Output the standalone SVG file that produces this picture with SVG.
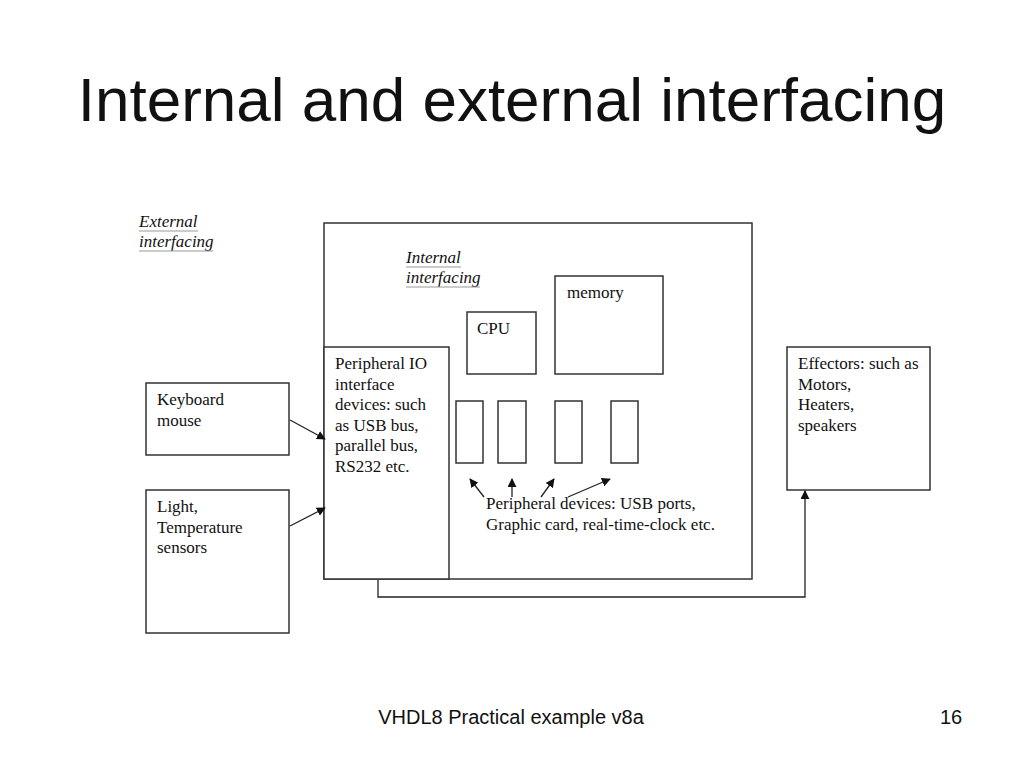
<svg xmlns="http://www.w3.org/2000/svg" width="1024" height="768" viewBox="0 0 1024 768">
<defs>
<style>
.box{fill:#fff;stroke:#333;stroke-width:1.5}
.t{font-family:"Liberation Serif",serif;font-size:17px;fill:#111}
.it{font-family:"Liberation Serif",serif;font-size:17px;font-style:italic;fill:#111}
.ul{stroke:#999;stroke-width:1.2}
.c{fill:none;stroke:#222;stroke-width:1.3}
</style>
<marker id="ah" viewBox="0 0 10 10" refX="9" refY="5" markerWidth="9" markerHeight="9" markerUnits="userSpaceOnUse" orient="auto">
<path d="M0,0 L10,5 L0,10 z" fill="#111"/>
</marker>
</defs>
<rect width="1024" height="768" fill="#fff"/>
<text x="512" y="121" text-anchor="middle" font-family="'Liberation Sans',sans-serif" font-size="62" fill="#111">Internal and external interfacing</text>

<g id="external-label">
<text class="it" x="139" y="227">External</text>
<line class="ul" x1="139" y1="231" x2="198" y2="231"/>
<text class="it" x="139" y="247">interfacing</text>
<line class="ul" x1="139" y1="251" x2="213" y2="251"/>
</g>

<g id="system">
<rect class="box" x="324" y="223" width="428" height="356"/>
</g>
<g id="internal-label">
<text class="it" x="406" y="263">Internal</text>
<line class="ul" x1="406" y1="267" x2="461" y2="267"/>
<text class="it" x="406" y="283">interfacing</text>
<line class="ul" x1="406" y1="287" x2="480" y2="287"/>
</g>
<g id="memory">
<rect class="box" x="555" y="276" width="108" height="98"/>
<text class="t" x="567" y="298">memory</text>
</g>
<g id="cpu">
<rect class="box" x="467" y="312" width="69" height="62"/>
<text class="t" x="477" y="334">CPU</text>
</g>
<g id="peripheral-io">
<rect class="box" x="324" y="347" width="125" height="232"/>
<text class="t" x="335" y="369">Peripheral IO</text>
<text class="t" x="335" y="390">interface</text>
<text class="t" x="335" y="410">devices: such</text>
<text class="t" x="335" y="431">as USB bus,</text>
<text class="t" x="335" y="451">parallel bus,</text>
<text class="t" x="335" y="472">RS232 etc.</text>
</g>
<g id="dev1"><rect class="box" x="456" y="401" width="27" height="62"/></g>
<g id="dev2"><rect class="box" x="498" y="401" width="28" height="62"/></g>
<g id="dev3"><rect class="box" x="555" y="401" width="27" height="62"/></g>
<g id="dev4"><rect class="box" x="611" y="401" width="27" height="62"/></g>
<g id="peripheral-label">
<text class="t" x="486" y="509">Peripheral devices: USB ports,</text>
<text class="t" x="486" y="530">Graphic card, real-time-clock etc.</text>
</g>
<g id="keyboard">
<rect class="box" x="146" y="383" width="143" height="72"/>
<text class="t" x="157" y="405">Keyboard</text>
<text class="t" x="157" y="426">mouse</text>
</g>
<g id="sensors">
<rect class="box" x="146" y="490" width="143" height="143"/>
<text class="t" x="157" y="512">Light,</text>
<text class="t" x="157" y="533">Temperature</text>
<text class="t" x="157" y="553">sensors</text>
</g>
<g id="effectors">
<rect class="box" x="787" y="347" width="143" height="143"/>
<text class="t" x="798" y="369">Effectors: such as</text>
<text class="t" x="798" y="390">Motors,</text>
<text class="t" x="798" y="410">Heaters,</text>
<text class="t" x="798" y="431">speakers</text>
</g>

<g id="connectors">
<line class="c" x1="290" y1="420" x2="325" y2="439" marker-end="url(#ah)"/>
<line class="c" x1="290" y1="526" x2="325" y2="508" marker-end="url(#ah)"/>
<line class="c" x1="484" y1="497" x2="470" y2="479" marker-end="url(#ah)"/>
<line class="c" x1="512" y1="497" x2="512" y2="479" marker-end="url(#ah)"/>
<line class="c" x1="541" y1="497" x2="554" y2="479" marker-end="url(#ah)"/>
<line class="c" x1="568" y1="497" x2="610" y2="479" marker-end="url(#ah)"/>
<polyline class="c" points="378,580 378,597 805,597 805,491" marker-end="url(#ah)"/>
</g>

<text x="511" y="724" text-anchor="middle" font-family="'Liberation Sans',sans-serif" font-size="20" fill="#111">VHDL8 Practical example v8a</text>
<text x="951" y="724" text-anchor="middle" font-family="'Liberation Sans',sans-serif" font-size="20" fill="#111">16</text>
</svg>
